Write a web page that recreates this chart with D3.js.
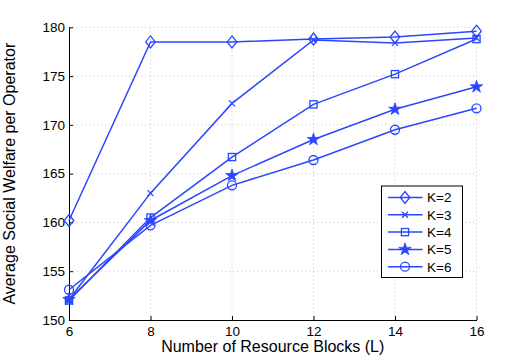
<!DOCTYPE html>
<html>
<head>
<meta charset="utf-8">
<script src="https://cdn.jsdelivr.net/npm/d3@7"></script>
<style>
  body { margin: 0; background: #fff; }
  text { font-family: "Liberation Sans", Arial, sans-serif; fill: #000; }
</style>
</head>
<body>
<svg id="chart" width="526" height="360"></svg>
<script>
// data
const blocks = [6, 8, 10, 12, 14, 16];
const k2 = [160.2, 178.5, 178.5, 178.8, 179.0, 179.6];
const k3 = [152.1, 163.0, 172.2, 178.7, 178.4, 178.9];
const k4 = [152.0, 160.5, 166.7, 172.1, 175.2, 178.8];
const k5 = [152.1, 160.2, 164.8, 168.5, 171.6, 173.9];
const k6 = [153.1, 159.7, 163.8, 166.4, 169.5, 171.7];
const seriesNames = ["K=2", "K=3", "K=4", "K=5", "K=6"];
const xTicks = [6, 8, 10, 12, 14, 16];
const yTicks = [150, 155, 160, 165, 170, 175, 180];

const series = [k2, k3, k4, k5, k6];
const markers = ["diamond", "cross", "square", "star", "circle"];
const blue = "#2a46ff";

const svg = d3.select("#chart");
const plotLeft = 69, plotRight = 476.5, plotTop = 27.3, plotBottom = 320;

const x = d3.scaleLinear().domain([6, 16]).range([plotLeft, plotRight]);
const y = d3.scaleLinear().domain([150, 180]).range([plotBottom, plotTop]);

// grid
const grid = svg.append("g");
grid.selectAll(".gx").data(xTicks.slice(1)).enter().append("line")
  .attr("x1", d => x(d)).attr("x2", d => x(d))
  .attr("y1", plotTop).attr("y2", plotBottom)
  .attr("stroke", "#b8b8b8").attr("stroke-width", 0.8).attr("stroke-dasharray", "1,3");
grid.selectAll(".gy").data(yTicks.slice(1)).enter().append("line")
  .attr("x1", plotLeft).attr("x2", plotRight)
  .attr("y1", d => y(d)).attr("y2", d => y(d))
  .attr("stroke", "#b8b8b8").attr("stroke-width", 0.8).attr("stroke-dasharray", "1,3");

// axes
const xAxis = d3.axisBottom(x).tickValues(xTicks).tickSizeInner(-4).tickSizeOuter(0).tickPadding(6);
const yAxis = d3.axisLeft(y).tickValues(yTicks).tickSizeInner(-4).tickSizeOuter(0).tickPadding(4);

const gx = svg.append("g").attr("transform", `translate(0,${plotBottom})`).call(xAxis);
const gy = svg.append("g").attr("transform", `translate(${plotLeft},0)`).call(yAxis);
[gx, gy].forEach(g => {
  g.select(".domain").attr("stroke", "#000").attr("stroke-width", 1);
  g.selectAll(".tick line").attr("stroke", "#000");
  g.selectAll("text").style("font-size", "13.5px").attr("font-family", null);
});

svg.append("text")
  .attr("x", (plotLeft + plotRight) / 2).attr("y", 352)
  .attr("text-anchor", "middle").style("font-size", "16px")
  .text("Number of Resource Blocks (L)");

svg.append("text")
  .attr("transform", `translate(14.5,${(plotTop + plotBottom) / 2}) rotate(-90)`)
  .attr("text-anchor", "middle").style("font-size", "16px")
  .text("Average Social Welfare per Operator");

function drawMarker(g, type, cx, cy) {
  if (type === "diamond") {
    g.append("path").attr("d", `M${cx},${cy - 6}L${cx + 4.8},${cy}L${cx},${cy + 6}L${cx - 4.8},${cy}Z`)
      .attr("fill", "none").attr("stroke", blue).attr("stroke-width", 1.3);
  } else if (type === "cross") {
    g.append("path").attr("d", `M${cx - 3},${cy - 3}L${cx + 3},${cy + 3}M${cx - 3},${cy + 3}L${cx + 3},${cy - 3}`)
      .attr("stroke", blue).attr("stroke-width", 1.3);
  } else if (type === "square") {
    g.append("rect").attr("x", cx - 3.6).attr("y", cy - 3.6).attr("width", 7.2).attr("height", 7.2)
      .attr("fill", "none").attr("stroke", blue).attr("stroke-width", 1.3);
  } else if (type === "star") {
    g.append("path").attr("d", d3.symbol(d3.symbolStar, 48)())
      .attr("transform", `translate(${cx},${cy})`)
      .attr("fill", blue).attr("stroke", blue).attr("stroke-width", 0.8);
  } else {
    g.append("circle").attr("cx", cx).attr("cy", cy).attr("r", 4.5)
      .attr("fill", "none").attr("stroke", blue).attr("stroke-width", 1.3);
  }
}

const line = d3.line().x((d, i) => x(blocks[i])).y(d => y(d));

series.forEach((vals, s) => {
  const g = svg.append("g");
  g.append("path").datum(vals).attr("d", line)
    .attr("fill", "none").attr("stroke", blue).attr("stroke-width", 1.5);
  vals.forEach((v, i) => drawMarker(g, markers[s], x(blocks[i]), y(v)));
});

// legend
const lg = svg.append("g");
lg.append("rect").attr("x", 381.5).attr("y", 186).attr("width", 81).attr("height", 91.5)
  .attr("fill", "#fff").attr("stroke", "#000").attr("stroke-width", 1);
seriesNames.forEach((name, i) => {
  const ly = 197.5 + i * 17.3;
  lg.append("line").attr("x1", 388).attr("x2", 422.5).attr("y1", ly).attr("y2", ly)
    .attr("stroke", blue).attr("stroke-width", 1.5);
  drawMarker(lg, markers[i], 405, ly);
  lg.append("text").attr("x", 427).attr("y", ly + 4.8).style("font-size", "13.5px").text(name);
});
</script>
</body>
</html>
